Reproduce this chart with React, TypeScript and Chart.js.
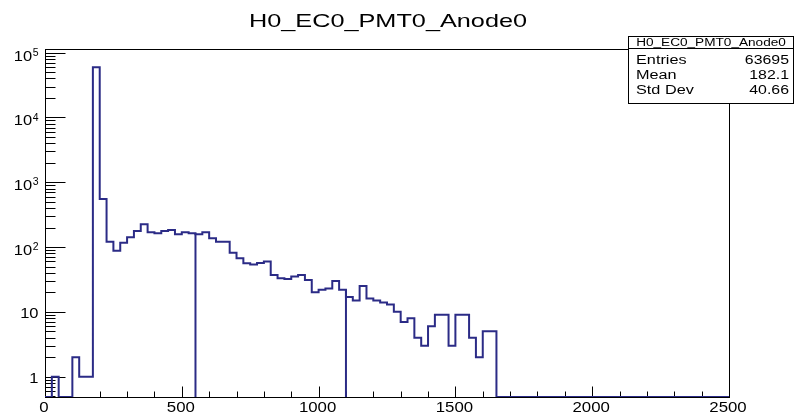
import React, { useEffect, useRef } from 'react';
import { Chart, registerables } from 'chart.js';

Chart.register(...registerables);

// ---------- data ----------
const TITLE = 'H0_EC0_PMT0_Anode0';
const BIN_WIDTH = 25;
const X_MIN = 0;
const X_MAX = 2500;
const Y_MIN = 0.485;
const Y_MAX = 1.14e5;

// counts per 25-wide bin, starting at 0
const binCounts = [
  0, 1, 0, 0, 2, 1, 1, 59470, 553, 121,
  88, 117, 142, 177, 225, 169, 163, 177, 184, 158,
  169, 163, 158, 169, 137, 121, 121, 82, 67, 56,
  54, 57, 60, 37, 33, 32, 35, 37, 31, 20,
  22, 23, 30, 22, 17, 15, 25, 16, 15, 14,
  13, 10, 7, 8, 4, 3, 6, 9, 9, 3,
  9, 9, 4, 2, 5, 5, 0, 0, 0, 0,
  0, 0, 0, 0, 0, 0, 0, 0, 0, 0,
  0, 0, 0, 0, 0, 0, 0, 0, 0, 0,
  0, 0, 0, 0, 0, 0, 0, 0, 0, 0,
];

const xTickLabels = [0, 500, 1000, 1500, 2000, 2500];
const xMinorStep = 100;
const yDecades = [1, 10, 100, 1000, 10000, 100000];
const yDecadeBase = ['1', '10', '10', '10', '10', '10'];
const yDecadeExp = ['', '', '2', '3', '4', '5'];
const cutLines = [550, 1100];
const statsNames = ['Entries', 'Mean', 'Std Dev'];
const statsValues = ['63695', '182.1', '40.66'];

// ---------- style ----------
const HIST_COLOR = '#2b2b86';
const FONT = '"Liberation Sans", Arial, Helvetica, sans-serif';

function drawText(
  ctx: CanvasRenderingContext2D,
  text: string,
  x: number,
  cy: number,
  align: CanvasTextAlign,
  size: number,
  sx: number
) {
  ctx.save();
  ctx.font = `${size}px ${FONT}`;
  ctx.textAlign = align;
  ctx.textBaseline = 'alphabetic';
  ctx.fillStyle = '#000';
  ctx.translate(x, cy + size * 0.358);
  ctx.scale(sx, 1);
  ctx.fillText(text, 0, 0);
  ctx.restore();
}

function textWidth(ctx: CanvasRenderingContext2D, text: string, size: number, sx: number) {
  ctx.save();
  ctx.font = `${size}px ${FONT}`;
  const w = ctx.measureText(text).width * sx;
  ctx.restore();
  return w;
}

const rootPlugin = {
  id: 'rootStyle',
  beforeDatasetsDraw(chart: any) {
    const ctx: CanvasRenderingContext2D = chart.ctx;
    const { left, right, top, bottom } = chart.chartArea;
    const xs = chart.scales.x;
    const ys = chart.scales.y;
    ctx.save();
    ctx.strokeStyle = '#000';
    ctx.lineWidth = 1;
    // frame
    ctx.strokeRect(Math.round(left) + 0.5, Math.round(top) + 0.5, Math.round(right - left), Math.round(bottom - top));
    // x ticks
    ctx.beginPath();
    for (let v = X_MIN; v <= X_MAX; v += xMinorStep) {
      const px = Math.round(xs.getPixelForValue(v)) + 0.5;
      const major = xTickLabels.includes(v);
      ctx.moveTo(px, bottom);
      ctx.lineTo(px, bottom - (major ? 10.5 : 5.5));
    }
    // y ticks
    const ticks: { v: number; major: boolean }[] = [];
    for (const d of [0.1, ...yDecades]) {
      for (let k = 1; k <= 9; k++) {
        const v = d * k;
        if (v >= Y_MIN && v <= Y_MAX) ticks.push({ v, major: k === 1 });
      }
    }
    for (const t of ticks) {
      const py = Math.round(ys.getPixelForValue(t.v)) + 0.5;
      ctx.moveTo(left, py);
      ctx.lineTo(left + (t.major ? 20.5 : 10.5), py);
    }
    ctx.stroke();
    ctx.restore();
  },
  afterDraw(chart: any) {
    const ctx: CanvasRenderingContext2D = chart.ctx;
    const { left, right, bottom } = chart.chartArea;
    const xs = chart.scales.x;
    const ys = chart.scales.y;

    // title
    drawText(ctx, TITLE, (left + right) / 2 + 1, 20.5, 'center', 19, 1.33);

    // x labels
    xTickLabels.forEach((v) => {
      drawText(ctx, String(v), xs.getPixelForValue(v) - 1, bottom + 10, 'center', 15, 1.12);
    });

    // y labels
    const labelRight = left - 6.5;
    yDecades.forEach((v, i) => {
      const py = ys.getPixelForValue(v);
      const exp = yDecadeExp[i];
      if (!exp) {
        drawText(ctx, yDecadeBase[i], labelRight, py + 1, 'right', 15, 1.1);
      } else {
        const ew = textWidth(ctx, exp, 10, 1.05);
        drawText(ctx, exp, labelRight, py - 0.5, 'right', 10, 1.05);
        drawText(ctx, yDecadeBase[i], labelRight - ew - 0.5, py + 2.5, 'right', 15, 1.1);
      }
    });

    // stats box
    const bx = 628.5;
    const by = 36.5;
    const bw = 165;
    const bh = 67;
    const headerH = 12;
    ctx.save();
    ctx.fillStyle = '#fff';
    ctx.fillRect(bx, by, bw, bh);
    ctx.strokeStyle = '#000';
    ctx.lineWidth = 1;
    ctx.strokeRect(bx, by, bw, bh);
    ctx.beginPath();
    ctx.moveTo(bx, by + headerH);
    ctx.lineTo(bx + bw, by + headerH);
    ctx.stroke();
    ctx.restore();
    drawText(ctx, TITLE, bx + bw / 2, by + 6, 'center', 10, 1.36);
    statsNames.forEach((name, i) => {
      const cy = by + headerH + 11 + i * 15;
      drawText(ctx, name, bx + 7.5, cy, 'left', 12.5, 1.3);
      drawText(ctx, statsValues[i], bx + bw - 4.5, cy, 'right', 12.5, 1.27);
    });
  },
};

export default function App() {
  const canvasRef = useRef<HTMLCanvasElement | null>(null);

  useEffect(() => {
    if (!canvasRef.current) return;
    const histPoints = binCounts.map((c, i) => ({ x: X_MIN + i * BIN_WIDTH, y: c > 0 ? c : Y_MIN }));
    histPoints.push({ x: X_MAX, y: Y_MIN });

    const cutDatasets = cutLines.map((c) => {
      const idx = Math.round((c - X_MIN) / BIN_WIDTH);
      const topVal = Math.max(binCounts[idx - 1] || Y_MIN, binCounts[idx] || Y_MIN);
      return {
        label: `cut ${c}`,
        data: [
          { x: c, y: Y_MIN },
          { x: c, y: topVal },
        ],
        borderColor: HIST_COLOR,
        borderWidth: 2,
        pointRadius: 0,
        fill: false,
      };
    });

    const chart = new Chart(canvasRef.current, {
      type: 'line',
      data: {
        datasets: [
          {
            label: TITLE,
            data: histPoints,
            stepped: true,
            borderColor: HIST_COLOR,
            borderWidth: 2,
            pointRadius: 0,
            fill: false,
            tension: 0,
          },
          ...cutDatasets,
        ] as any,
      },
      options: {
        animation: false,
        responsive: false,
        maintainAspectRatio: false,
        layout: { padding: { left: 45, right: 67, top: 49, bottom: 16 } },
        plugins: {
          legend: { display: false },
          tooltip: { enabled: false },
          title: { display: false },
        },
        scales: {
          x: {
            type: 'linear',
            min: X_MIN,
            max: X_MAX,
            bounds: 'data',
            display: false,
          },
          y: {
            type: 'logarithmic',
            min: Y_MIN,
            max: Y_MAX,
            bounds: 'data',
            display: false,
          },
        },
      },
      plugins: [rootPlugin],
    });
    return () => chart.destroy();
  }, []);

  return (
    <div style={{ position: 'fixed', left: 0, top: 0, width: 796, height: 413, background: '#fff' }}>
      <canvas ref={canvasRef} width={796} height={413} style={{ display: 'block' }} />
    </div>
  );
}
